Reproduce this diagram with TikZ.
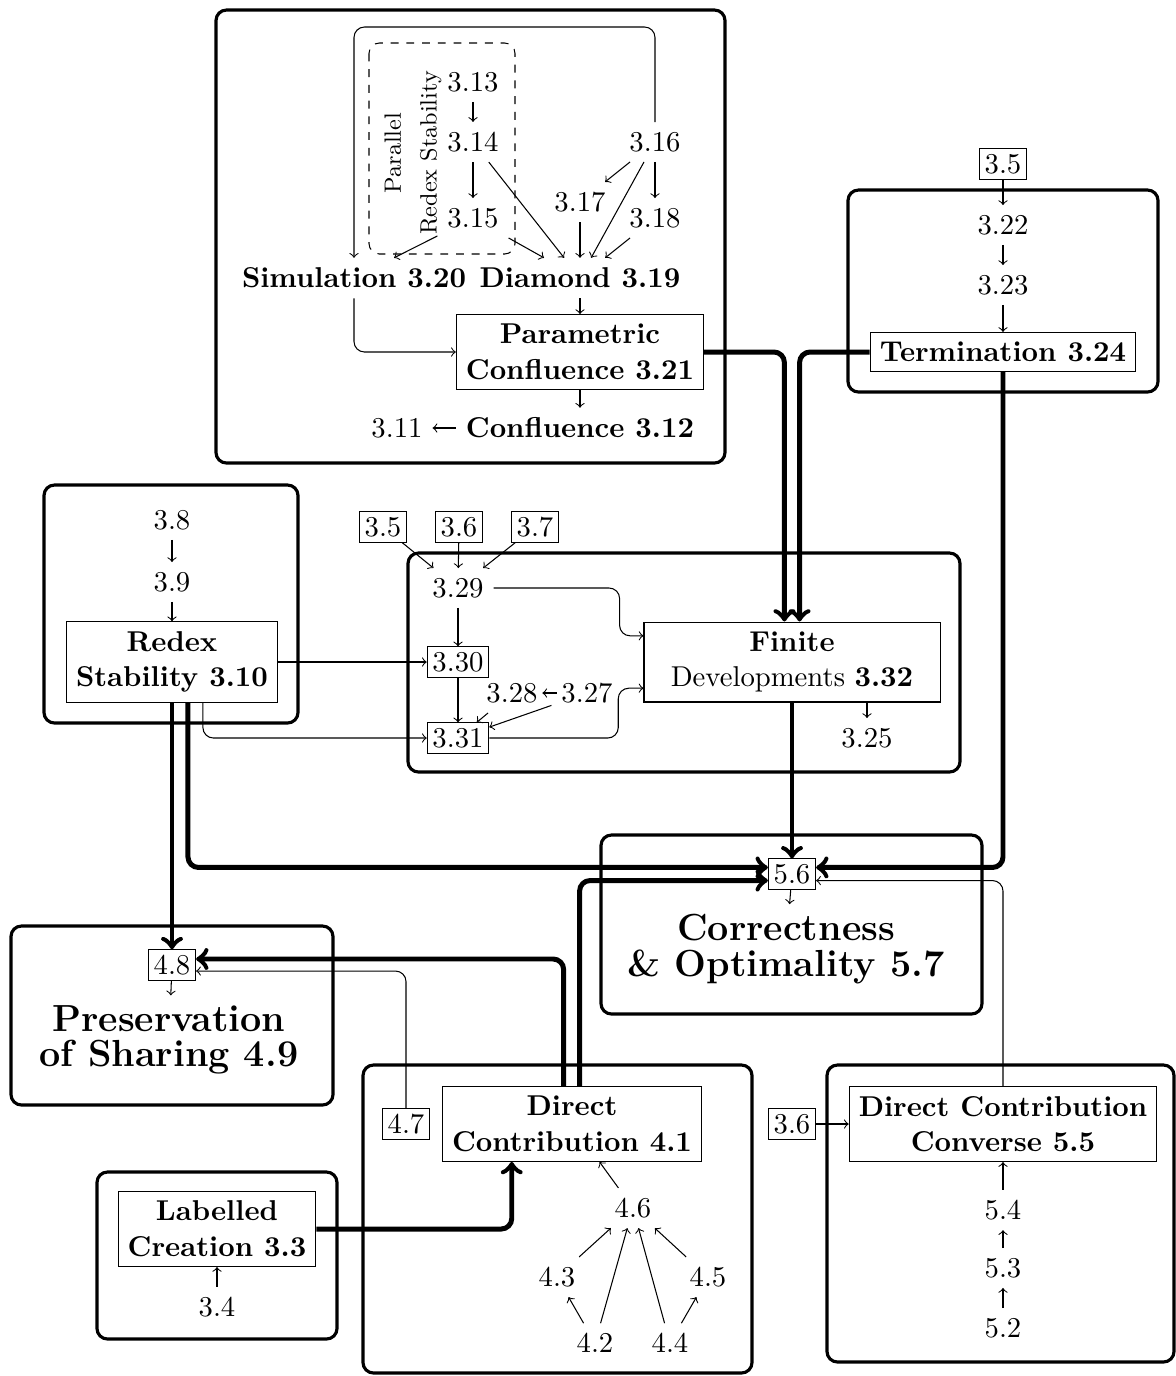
\documentclass[11pt,tikz,border=0pt]{standalone}
\usepackage{tikz}

\begin{document}
\begin{tikzpicture}[x=0.3817pt, y=-0.3817pt,
    group/.style={very thick, rounded corners},
    thm/.style={draw, align=center, font=\bfseries},
    ref/.style={draw, inner sep=2pt},
    dep/.style={->, rounded corners},
    big/.style={->, line width=1.9pt, rounded corners}]
    \useasboundingbox (0,0) rectangle (1176,1376);

    \draw[group] (216,10) rectangle (725,463);
    \draw[dashed, rounded corners] (369,43) rectangle (515,254);
    \node[rotate=90, align=center] (prs) at (413,153) {{\footnotesize Parallel}\\{\footnotesize Redex Stability}};
    \node (n313) at (473,82) {3.13};
    \node (n314) at (473,142) {3.14};
    \node (n315) at (473,218) {3.15};
    \node (n316) at (655,142) {3.16};
    \node (n317) at (580,202) {3.17};
    \node (n318) at (655,218) {3.18};
    \node[font=\bfseries] (sim) at (354,278) {Simulation 3.20};
    \node[font=\bfseries] (dia) at (580,278) {Diamond 3.19};
    \node[thm] (par) at (580,352) {Parametric\\Confluence 3.21};
    \node[font=\bfseries] (conf) at (580,428) {Confluence 3.12};
    \node (n311) at (397,428) {3.11};
    \coordinate (top) at (500,27);
    \draw[dep] (n313) -- (n314);
    \draw[dep] (n314) -- (n315);
    \draw[dep] (n314) -- (dia);
    \draw[dep] (n315) -- (sim);
    \draw[dep] (n315) -- (dia);
    \draw[dep] (n316) -- (n317);
    \draw[dep] (n316) -- (n318);
    \draw[dep] (n316) -- (dia);
    \draw[dep] (n317) -- (dia);
    \draw[dep] (n318) -- (dia);
    \draw[dep] (n316.north) |- (top) -| (sim.north);
    \draw[dep] (sim) |- (par);
    \draw[dep] (dia) -- (par);
    \draw[dep] (par) -- (conf);
    \draw[dep] (conf) -- (n311);

    \draw[group] (848,190) rectangle (1158,392);
    \node[ref] (r35a) at (1003,164) {3.5};
    \node (n322) at (1003,225) {3.22};
    \node (n323) at (1003,285) {3.23};
    \node[thm] (term) at (1003,352) {Termination 3.24};
    \draw[dep] (r35a) -- (n322);
    \draw[dep] (n322) -- (n323);
    \draw[dep] (n323) -- (term);

    \draw[group] (44,485) rectangle (298,723);
    \node (n38) at (172,520) {3.8};
    \node (n39) at (172,582) {3.9};
    \node[thm] (redex) at (172,662) {Redex\\Stability 3.10};
    \draw[dep] (n38) -- (n39);
    \draw[dep] (n39) -- (redex);

    \draw[group] (408,553) rectangle (960,772);
    \node[ref] (r35b) at (383,527) {3.5};
    \node[ref] (r36a) at (459,527) {3.6};
    \node[ref] (r37) at (535,527) {3.7};
    \node (n329) at (458,588) {3.29};
    \node[ref] (r330) at (458,662) {3.30};
    \node[ref] (r331) at (458,738) {3.31};
    \node (n328) at (512,693) {3.28};
    \node (n327) at (587,693) {3.27};
    \node[thm, font=\normalfont, minimum width=113pt] (fd) at (792,662) {\textbf{Finite}\\Developments \textbf{3.32}};
    \node (n325) at (867,738) {3.25};
    \draw[dep] (r35b) -- (n329);
    \draw[dep] (r36a) -- (n329);
    \draw[dep] (r37) -- (n329);
    \draw[dep] (n329) -- (r330);
    \draw[dep] (r330) -- (r331);
    \draw[dep, shorten <=-2pt, shorten >=-2pt] (n327) -- (n328);
    \draw[dep] (n328) -- (r331);
    \draw[dep] (n327) -- (r331);
    \draw[dep] (n329.east) -- ++(126,0) |- ([yshift=10pt]fd.west);
    \draw[dep] (r331.east) -- ++(129,0) |- ([yshift=-10pt]fd.west);
    \draw[dep] (fd.south -| n325) -- (n325);
    \draw[dep] (redex) -- (r330);
    \draw[dep] ([xshift=11.8pt]redex.south) |- (r331);

    \draw[group] (601,835) rectangle (982,1014);
    \node[ref] (r56) at (792,874) {5.6};
    \node[align=center] (cor) at (786,949) {{\Large\bfseries Correctness}\\{\Large\bfseries \& Optimality 5.7}};
    \draw[dep] (r56) -- (cor);

    \draw[group] (11,926) rectangle (333,1105);
    \node[ref] (r48) at (172,965) {4.8};
    \node[align=center] (pres) at (169,1040) {{\Large\bfseries Preservation}\\{\Large\bfseries of Sharing 4.9}};
    \draw[dep] (r48) -- (pres);

    \draw[group] (363,1065) rectangle (752,1373);
    \node[ref] (r47) at (406,1124) {4.7};
    \node[thm] (dc) at (572,1124) {Direct\\Contribution 4.1};
    \node (n46) at (633,1208) {4.6};
    \node (n43) at (557,1277) {4.3};
    \node (n45) at (708,1277) {4.5};
    \node (n42) at (595,1343) {4.2};
    \node (n44) at (670,1343) {4.4};
    \draw[dep] (n46) -- (dc);
    \draw[dep] (n43) -- (n46);
    \draw[dep] (n42) -- (n46);
    \draw[dep] (n44) -- (n46);
    \draw[dep] (n45) -- (n46);
    \draw[dep] (n42) -- (n43);
    \draw[dep] (n44) -- (n45);

    \draw[group] (827,1065) rectangle (1174,1362);
    \node[ref] (r36b) at (792,1124) {3.6};
    \node[thm] (dcc) at (1003,1124) {Direct Contribution\\Converse 5.5};
    \node (n54) at (1003,1210) {5.4};
    \node (n53) at (1003,1268) {5.3};
    \node (n52) at (1003,1328) {5.2};
    \draw[dep] (r36b) -- (dcc);
    \draw[dep] (n54) -- (dcc);
    \draw[dep] (n53) -- (n54);
    \draw[dep] (n52) -- (n53);

    \draw[group] (97,1172) rectangle (337,1339);
    \node[thm] (lc) at (217,1229) {Labelled\\Creation 3.3};
    \node (n34) at (217,1307) {3.4};
    \draw[dep] (n34) -- (lc);

    \draw[dep] (r47) |- ([yshift=-2.3pt]r48.east);
    \draw[dep] (dcc) |- ([yshift=-2.5pt]r56.east);
    \draw[big] (par) -| ([xshift=-2.9pt]fd.north);
    \draw[big] (term) -| ([xshift=2.9pt]fd.north);
    \draw[big] (fd) -- (r56);
    \draw[big] (term.south) |- ([yshift=2.5pt]r56.east);
    \draw[big] ([xshift=6.1pt]redex.south) |- ([yshift=2.5pt]r56.west);
    \draw[big] (redex) -- (r48);
    \draw[big] ([xshift=-3.2pt]dc.north) |- ([yshift=2.3pt]r48.east);
    \draw[big] ([xshift=2.9pt]dc.north) |- ([yshift=-2.5pt]r56.west);
    \draw[big] (lc) -| ([xshift=-23pt]dc.south);
\end{tikzpicture}
\end{document}
